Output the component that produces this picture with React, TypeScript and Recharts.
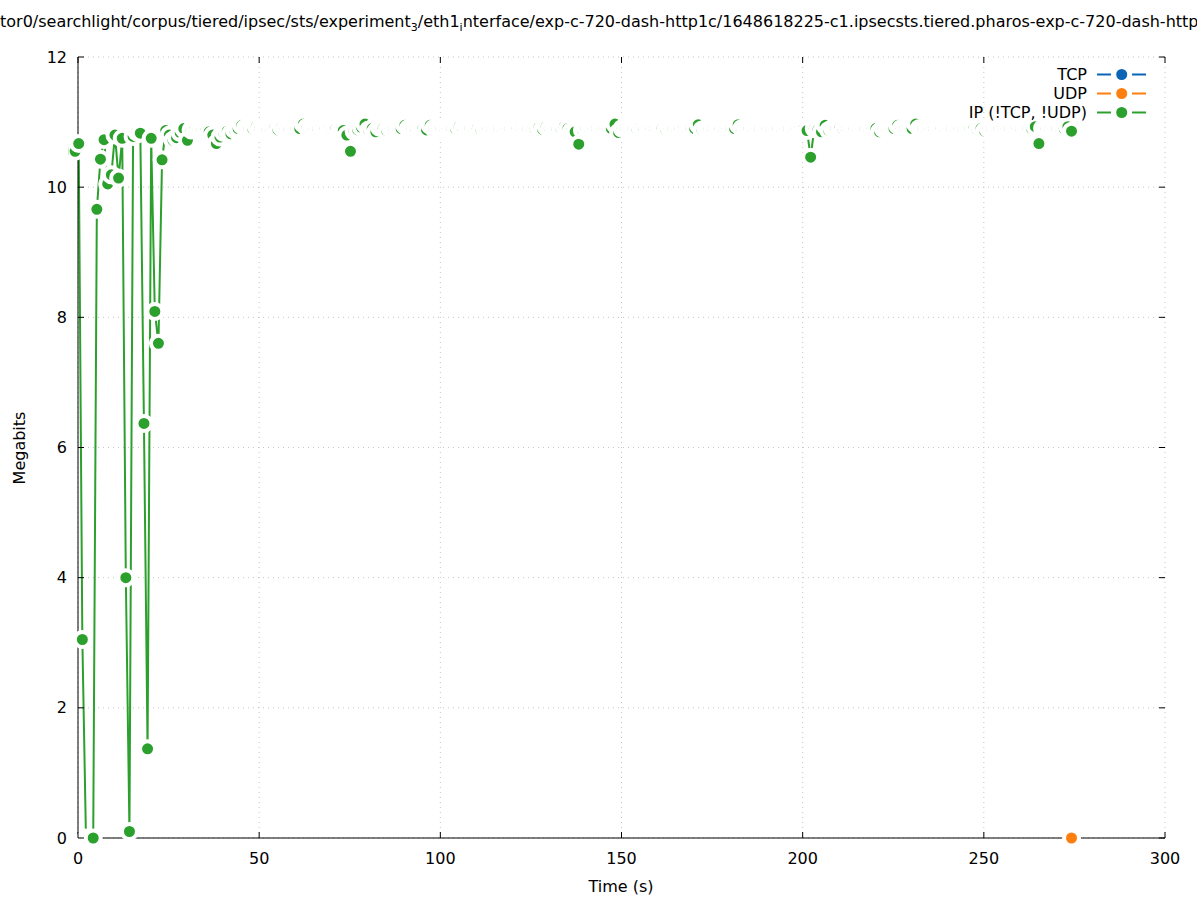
import React from 'react';
import { LineChart, Line, XAxis, YAxis, CartesianGrid, Legend } from 'recharts';

// IP (!TCP, !UDP) throughput, one sample per second starting at t = -0.8 s
const ipStart = -0.8;
const ipStep = 1.0;
const ipMegabits = [
  10.55, 10.67, 3.05, 0, 0, 0, 9.66, 10.43, 10.73, 10.05,
  10.19, 10.8, 10.14, 10.75, 4.0, 0.1, 10.78, 10.85, 10.83, 6.37,
  1.37, 10.75, 8.09, 7.6, 10.42, 10.87, 10.8, 10.72, 10.76, 10.84,
  10.9, 10.72, 10.88, 10.89, 10.88, 10.87, 10.86, 10.85, 10.8, 10.67,
  10.77, 10.84, 10.86, 10.82, 10.88, 10.9, 10.95, 10.91, 10.9, 10.9,
  10.93, 10.9, 10.9, 10.89, 10.9, 10.9, 10.88, 10.92, 10.9, 10.9,
  10.91, 10.9, 10.9, 10.97, 10.92, 10.9, 10.9, 10.9, 10.91, 10.9,
  10.9, 10.89, 10.9, 10.88, 10.87, 10.8, 10.55, 10.86, 10.88, 10.92,
  10.97, 10.88, 10.9, 10.85, 10.92, 10.9, 10.87, 10.9, 10.9, 10.9,
  10.9, 10.95, 10.9, 10.9, 10.9, 10.91, 10.9, 10.88, 10.95, 10.9,
  10.9, 10.9, 10.9, 10.9, 10.9, 10.9, 10.93, 10.9, 10.91, 10.9,
  10.9, 10.9, 10.88, 10.9, 10.9, 10.9, 10.9, 10.9, 10.9, 10.9,
  10.9, 10.9, 10.9, 10.9, 10.9, 10.9, 10.9, 10.9, 10.92, 10.89,
  10.93, 10.9, 10.9, 10.9, 10.91, 10.93, 10.9, 10.86, 10.85, 10.66,
  10.88, 10.9, 10.9, 10.9, 10.9, 10.9, 10.9, 10.9, 10.9, 10.97,
  10.84, 10.9, 10.9, 10.9, 10.9, 10.9, 10.92, 10.9, 10.91, 10.9,
  10.9, 10.9, 10.9, 10.88, 10.9, 10.9, 10.9, 10.9, 10.91, 10.9,
  10.9, 10.9, 10.96, 10.88, 10.9, 10.9, 10.9, 10.9, 10.9, 10.9,
  10.9, 10.9, 10.9, 10.96, 10.9, 10.9, 10.9, 10.9, 10.9, 10.9,
  10.9, 10.9, 10.9, 10.9, 10.9, 10.9, 10.9, 10.9, 10.9, 10.9,
  10.9, 10.89, 10.87, 10.46, 10.9, 10.88, 10.85, 10.95, 10.87, 10.9,
  10.9, 10.9, 10.88, 10.9, 10.9, 10.9, 10.9, 10.9, 10.9, 10.9,
  10.9, 10.9, 10.85, 10.9, 10.9, 10.9, 10.9, 10.95, 10.9, 10.9,
  10.9, 10.9, 10.97, 10.9, 10.9, 10.9, 10.9, 10.9, 10.9, 10.9,
  10.9, 10.9, 10.9, 10.9, 10.9, 10.9, 10.9, 10.9, 10.9, 10.88,
  10.9, 10.86, 10.9, 10.9, 10.9, 10.9, 10.9, 10.9, 10.9, 10.9,
  10.9, 10.9, 10.9, 10.9, 10.9, 10.93, 10.67, 10.9, 10.9, 10.9,
  10.9, 10.9, 10.9, 10.9, 10.93, 10.86,
];

const udpTimes = [274.2];
const udpMegabits = [0];

const tcpTimes: number[] = [];
const tcpMegabits: number[] = [];

const xTicks = [0, 50, 100, 150, 200, 250, 300];
const yTicks = [0, 2, 4, 6, 8, 10, 12];

const seriesNames = ['TCP', 'UDP', 'IP (!TCP, !UDP)'];
const seriesColors = ['#0b64b4', '#ff7f0e', '#2ca02c'];

const ipData = ipMegabits.map((v, i) => ({ t: ipStart + i * ipStep, v }));
const udpData = udpTimes.map((t, i) => ({ t, v: udpMegabits[i] }));
const tcpData = tcpTimes.map((t, i) => ({ t, v: tcpMegabits[i] }));

const W = 1197;
const H = 900;
const PLOT_LEFT = 78;
const PLOT_RIGHT = 1165;
const PLOT_TOP = 57;
const PLOT_BOTTOM = 838;
const TICK = 6;
const FONT = "'DejaVu Sans', sans-serif";

function YTick(props: any) {
  const { x, y, payload } = props;
  return (
    <g>
      <line x1={PLOT_LEFT} x2={PLOT_LEFT + TICK} y1={y} y2={y} stroke="#000" />
      <line x1={PLOT_RIGHT - TICK} x2={PLOT_RIGHT} y1={y} y2={y} stroke="#000" />
      <text x={x} y={y} dy={5.5} textAnchor="end" fontSize={16} fontFamily={FONT} fill="#000">
        {payload.value}
      </text>
    </g>
  );
}

function XTick(props: any) {
  const { x, payload } = props;
  return (
    <g>
      <line x1={x} x2={x} y1={PLOT_BOTTOM} y2={PLOT_BOTTOM - TICK} stroke="#000" />
      <line x1={x} x2={x} y1={PLOT_TOP} y2={PLOT_TOP + TICK} stroke="#000" />
      <text x={x} y={PLOT_BOTTOM + 26} textAnchor="middle" fontSize={16} fontFamily={FONT} fill="#000">
        {payload.value}
      </text>
    </g>
  );
}

function KeyBox() {
  return (
    <div style={{ fontFamily: FONT, fontSize: 16 }}>
      {seriesNames.map((name, i) => (
        <div key={name} style={{ display: 'flex', justifyContent: 'flex-end', alignItems: 'center', height: 19 }}>
          <span style={{ lineHeight: '19px', whiteSpace: 'nowrap' }}>{name}</span>
          <svg width={60} height={19} style={{ display: 'block' }}>
            <line x1={10} x2={24} y1={9.5} y2={9.5} stroke={seriesColors[i]} strokeWidth={2} />
            <circle cx={34.7} cy={9.5} r={5.5} fill={seriesColors[i]} />
            <line x1={45} x2={59} y1={9.5} y2={9.5} stroke={seriesColors[i]} strokeWidth={2} />
          </svg>
        </div>
      ))}
    </div>
  );
}

// filled marker of radius 5.5 with a white ring out to 9.5 that cuts the line
const dotStyle = (color: string) => ({
  r: 7.5,
  fill: color,
  stroke: '#fff',
  strokeWidth: 4,
  clipDot: false,
});

export default function App() {
  return (
    <div style={{ position: 'absolute', left: 0, top: 0, width: W, height: H, background: '#fff' }}>
      <LineChart width={W} height={H} margin={{ top: PLOT_TOP, right: W - PLOT_RIGHT, bottom: 0, left: 0 }}>
        <CartesianGrid stroke="#c4c4c4" strokeDasharray="1 4" />
        <XAxis
          type="number"
          dataKey="t"
          domain={[0, 300]}
          ticks={xTicks}
          allowDataOverflow
          height={H - PLOT_BOTTOM}
          tick={<XTick />}
          tickLine={false}
          axisLine={{ stroke: '#000' }}
        />
        <YAxis
          type="number"
          domain={[0, 12]}
          ticks={yTicks}
          width={PLOT_LEFT}
          tickMargin={5}
          tick={<YTick />}
          tickLine={false}
          axisLine={{ stroke: '#000' }}
        />
        <Legend
          layout="vertical"
          align="center"
          verticalAlign="middle"
          wrapperStyle={{ left: 887, top: 65, width: 260 }}
          content={() => <KeyBox />}
        />
        <Line data={tcpData} dataKey="v" name="TCP" type="linear" stroke={seriesColors[0]} strokeWidth={2}
          dot={dotStyle(seriesColors[0])} isAnimationActive={false} />
        <Line data={ipData} dataKey="v" name="IP (!TCP, !UDP)" type="linear" stroke={seriesColors[2]} strokeWidth={2}
          dot={dotStyle(seriesColors[2])} isAnimationActive={false} />
        <Line data={udpData} dataKey="v" name="UDP" type="linear" stroke={seriesColors[1]} strokeWidth={2}
          dot={dotStyle(seriesColors[1])} isAnimationActive={false} />
      </LineChart>
      <svg width={W} height={H} style={{ position: 'absolute', left: 0, top: 0, pointerEvents: 'none' }}>
        <text x={0} y={27} fontSize={16} fontFamily={FONT} fill="#000">
          tor0/searchlight/corpus/tiered/ipsec/sts/experiment
          <tspan dy={4} fontSize={11}>3</tspan>
          <tspan dy={-4}>/eth1</tspan>
          <tspan dy={4} fontSize={11}>i</tspan>
          <tspan dy={-4}>nterface/exp-c-720-dash-http1c/1648618225-c1.ipsecsts.tiered.pharos-exp-c-720-dash-http</tspan>
        </text>
        <text x={621} y={892} textAnchor="middle" fontSize={16} fontFamily={FONT} fill="#000">
          Time (s)
        </text>
        <text x={25} y={448} transform="rotate(-90 25 448)" textAnchor="middle" fontSize={16} fontFamily={FONT} fill="#000">
          Megabits
        </text>
      </svg>
    </div>
  );
}
